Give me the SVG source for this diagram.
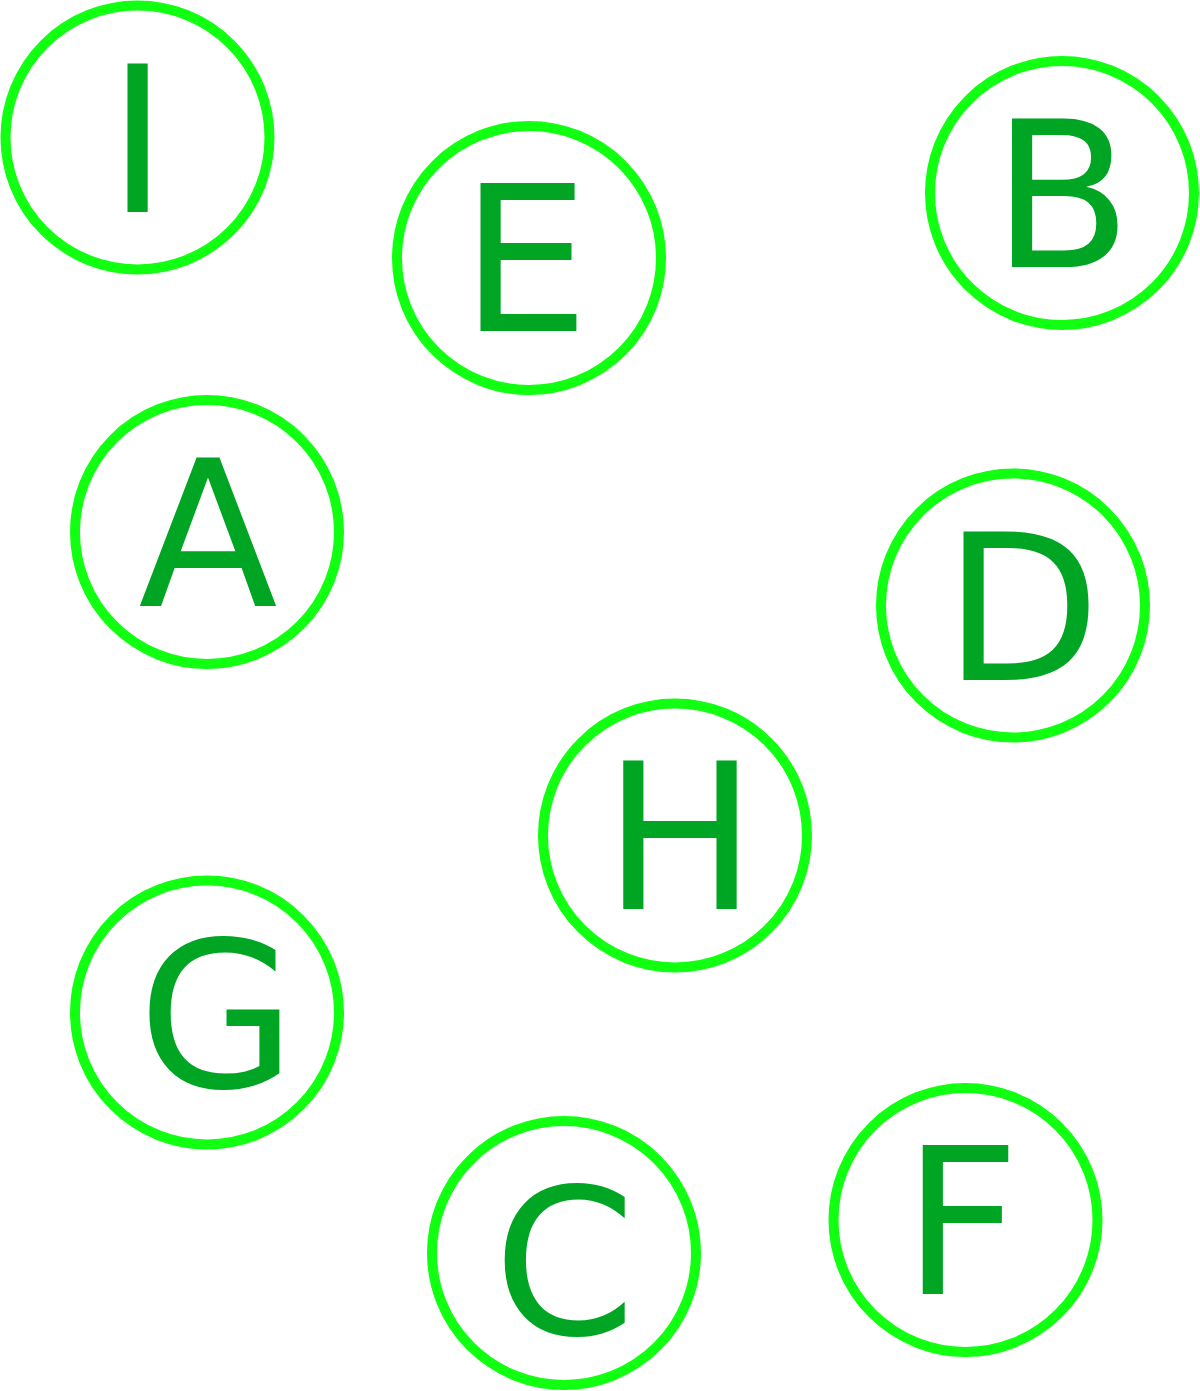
<svg xmlns="http://www.w3.org/2000/svg" width="1200" height="1391" viewBox="0 0 1200 1391">
<style>
.node circle{fill:#ffffff;stroke:#11ff11;stroke-width:10}
.node text{font-family:"DejaVu Sans",sans-serif;font-size:204px;fill:#00a623;text-anchor:middle}
</style>
<rect width="1200" height="1391" fill="#ffffff"/>
<g id="connectors"></g>
<g id="I" class="node"><circle cx="137.5" cy="137.5" r="132"/><text x="137.5" y="212">I</text></g>
<g id="E" class="node"><circle cx="529" cy="258" r="132"/><text x="525" y="331">E</text></g>
<g id="B" class="node"><circle cx="1062" cy="193" r="132"/><text x="1062" y="267">B</text></g>
<g id="A" class="node"><circle cx="207" cy="532" r="132"/><text x="208" y="606">A</text></g>
<g id="D" class="node"><circle cx="1013" cy="605.5" r="132"/><text x="1022" y="680">D</text></g>
<g id="H" class="node"><circle cx="675" cy="835.5" r="132"/><text x="680" y="909">H</text></g>
<g id="G" class="node"><circle cx="207" cy="1012.5" r="132"/><text x="217" y="1087">G</text></g>
<g id="C" class="node"><circle cx="564" cy="1253" r="132"/><text x="564.5" y="1334">C</text></g>
<g id="F" class="node"><circle cx="965.5" cy="1220" r="132"/><text x="961.5" y="1294">F</text></g>
</svg>
